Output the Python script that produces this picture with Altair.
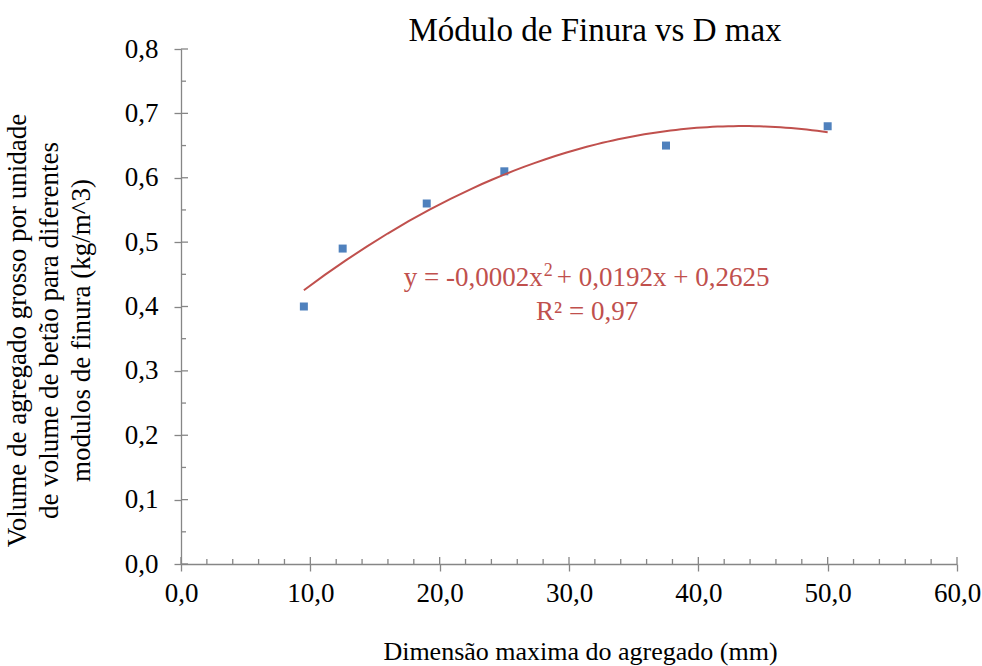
import altair as alt
import pandas as pd

# Measured points: maximum aggregate size (mm) vs coarse aggregate volume
d_max = [9.5, 12.5, 19.0, 25.0, 37.5, 50.0]
volume = [0.40, 0.49, 0.56, 0.61, 0.65, 0.68]

# Axis tick positions
x_major = [0, 10, 20, 30, 40, 50, 60]
x_minor = [2, 4, 6, 8, 12, 14, 16, 18, 22, 24, 26, 28, 32, 34, 36, 38,
           42, 44, 46, 48, 52, 54, 56, 58]
y_major = [0.0, 0.1, 0.2, 0.3, 0.4, 0.5, 0.6, 0.7, 0.8]
y_minor = [0.05, 0.15, 0.25, 0.35, 0.45, 0.55, 0.65, 0.75]

# Trendline label text and its anchor (data units)
eq_left = "y = -0,0002x"
eq_sup = "2"
eq_right = "+ 0,0192x + 0,2625"
r2_text = "R² = 0,97"
eq_anchor = (27.97, 0.432)
r2_anchor = (31.4, 0.379)

W, H = 776, 515
FONT = "Liberation Serif"
GREY = "#868686"
BLUE = "#4F81BD"
RED = "#C0504D"

x_scale = alt.Scale(domain=[0, 60], nice=False, zero=False)
y_scale = alt.Scale(domain=[0, 0.8], nice=False, zero=False)
comma_fmt = "replace(format(datum.value, '.1f'), '.', ',')"

pts = pd.DataFrame({"d": d_max, "v": volume})

x_axis = alt.Axis(
    values=x_major, labelExpr=comma_fmt, grid=False, labelFlush=False,
    labelFont=FONT, labelFontSize=27, labelPadding=9,
    title="Dimensão maxima do agregado (mm)", titleFont=FONT,
    titleX=399, titleY=95, titleBaseline="alphabetic", titleAlign="center",
)
y_axis = alt.Axis(
    values=y_major, labelExpr=comma_fmt, grid=False,
    labelFont=FONT, labelFontSize=27, labelPadding=16,
    title=["Volume de agregado grosso por unidade",
           "de volume de betão para diferentes",
           "modulos de finura (kg/m^3)"],
    titleFont=FONT, titleFontSize=27, titleLineHeight=32, titleAngle=-90,
    titleX=-164, titleY=281, titleBaseline="middle", titleAlign="center",
)


def xenc(field):
    return alt.X(field, scale=x_scale, axis=x_axis)


def yenc(field):
    return alt.Y(field, scale=y_scale, axis=y_axis)


pts_chart = alt.Chart(pts)
points = pts_chart.mark_square(size=64, color=BLUE, opacity=1).encode(
    x=xenc("d:Q"), y=yenc("v:Q"))

trend = (
    pts_chart.transform_regression("d", "v", method="poly", order=2)
    .mark_line(color=RED, strokeWidth=2)
    .encode(x=xenc("d:Q"), y=yenc("v:Q"))
)

# Inner halves of the major ticks and the inward minor ticks
y_major_in = alt.Chart(pd.DataFrame({"t": y_major})).mark_rule(
    color=GREY, strokeWidth=1.3).encode(
    y=yenc("t:Q"), x=alt.value(0), x2=alt.value(7))
y_minor_in = alt.Chart(pd.DataFrame({"t": y_minor})).mark_rule(
    color=GREY, strokeWidth=1.3).encode(
    y=yenc("t:Q"), x=alt.value(0), x2=alt.value(5))
x_major_in = alt.Chart(pd.DataFrame({"t": x_major})).mark_rule(
    color=GREY, strokeWidth=1.3).encode(
    x=xenc("t:Q"), y=alt.value(H), y2=alt.value(H - 7))
x_minor_in = alt.Chart(pd.DataFrame({"t": x_minor})).mark_rule(
    color=GREY, strokeWidth=1.3).encode(
    x=xenc("t:Q"), y=alt.value(H), y2=alt.value(H - 5))

eq_df = pd.DataFrame({"x": [eq_anchor[0]], "y": [eq_anchor[1]],
                      "a": [eq_left], "s": [eq_sup], "b": [eq_right]})
r2_df = pd.DataFrame({"x": [r2_anchor[0]], "y": [r2_anchor[1]], "t": [r2_text]})

eq_base = alt.Chart(eq_df).encode(x=xenc("x:Q"), y=yenc("y:Q"))
eq_a = eq_base.mark_text(font=FONT, fontSize=27, color=RED, align="right",
                         baseline="alphabetic").encode(text="a:N")
eq_s = eq_base.mark_text(font=FONT, fontSize=18, color=RED, align="left",
                         baseline="alphabetic", dx=1, dy=-10).encode(text="s:N")
eq_b = eq_base.mark_text(font=FONT, fontSize=27, color=RED, align="left",
                         baseline="alphabetic", dx=14).encode(text="b:N")
r2 = alt.Chart(r2_df).mark_text(font=FONT, fontSize=27, color=RED, align="center",
                                baseline="alphabetic").encode(
    x=xenc("x:Q"), y=yenc("y:Q"), text="t:N")

chart = (
    alt.layer(points, trend, y_major_in, y_minor_in, x_major_in, x_minor_in,
              eq_a, eq_s, eq_b, r2)
    .properties(
        width=W, height=H,
        autosize=alt.AutoSizeParams(type="none"),
        padding={"left": 181, "top": 49, "right": 25, "bottom": 102},
        background="white",
        title=alt.TitleParams(
            "Módulo de Finura vs D max", font=FONT, fontSize=33,
            fontWeight="normal", color="black", frame="group", anchor="middle",
            baseline="alphabetic", offset=0, dx=26, dy=39,
        ),
    )
    .configure_axis(
        labelFont=FONT, titleFont=FONT, labelColor="black", titleColor="black",
        labelFontSize=27, titleFontSize=26, titleFontWeight="normal",
        domainColor=GREY, domainWidth=1.3, tickColor=GREY, tickWidth=1.3,
        tickSize=7, grid=False,
    )
    .configure_text(font=FONT)
    .configure_view(stroke=None)
)

chart.save("out.html", embed_options={"renderer": "svg", "actions": False})
